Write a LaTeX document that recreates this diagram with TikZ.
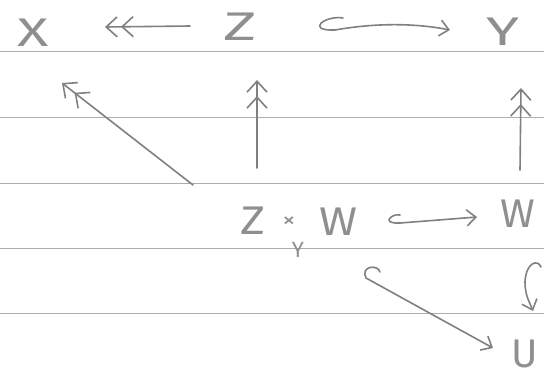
\documentclass[tikz,border=0pt]{standalone}
\usepackage{fontspec}
\usepackage{graphicx}
\newfontfamily\hand{Fira Sans}
\usetikzlibrary{arrows.meta}
\definecolor{pencil}{gray}{0.5}
\definecolor{lead}{gray}{0.56}
\definecolor{ruling}{gray}{0.68}
% stretch a letter horizontally
\newcommand\widen[2]{\scalebox{#1}[1]{#2}}
\tikzset{
  pen/.style={draw=pencil, line width=1.6pt, line cap=round, line join=round},
  obj/.style={inner sep=0pt, text=lead, font=\hand\fontsize{40}{40}\selectfont},
  small/.style={inner sep=0pt, text=lead, font=\hand\fontsize{22}{22}\selectfont},
  epi/.style={pen, -{Straight Barb[length=11pt,width=20pt,sep=3pt]Straight Barb[length=11pt,width=20pt]}},
  mono/.style={pen, -{Straight Barb[length=9pt,width=16pt]}},
  rule/.style={draw=ruling, line width=0.7pt}
}
\begin{document}
\begin{tikzpicture}[x=1pt, y=-1pt]
  \useasboundingbox (0,0) rectangle (544,376);
  % ruled paper
  \foreach \yy in {51,117,183,248,313}
    \draw[rule] (0,\yy) -- (544,\yy);

  % objects
  \node[obj] (X) at (33,33) {\widen{1.45}{X}};
  \node[obj] (Z) at (240,27) {\widen{1.6}{Z}};
  \node[obj] (Y) at (503,32) {\widen{1.5}{Y}};
  \node[obj] (Zb) at (253,221) {\widen{1.2}{Z}};
  \node[small] (tm) at (289,222) {\widen{1.2}{×}};
  \node[small] (Ys) at (298,250) {Y};
  \node[obj] (Wa) at (338,222) {\widen{1.15}{W}};
  \node[obj] (Wb) at (518,214) {\widen{1.05}{W}};
  \node[obj] (U) at (525,354) {U};
  \coordinate (t7) at (380,272);

  % top row
  \draw[epi] ([shift={(-50,-1)}]Z.center) -- ([shift={(72,-6)}]X.center);
  \draw[mono] ([shift={(103,-9)}]Z.center)
      .. controls (325,15) and (305,31) .. (335,30)
      .. controls (380,22) and (420,24) .. ([shift={(-53,-2)}]Y.center);

  % vertical and diagonal epimorphisms
  \draw[epi] ([shift={(-60,-36)}]Zb.center) -- ([shift={(29,50)}]X.center);
  \draw[epi] ([shift={(4,-53)}]Zb.center) -- ([shift={(17,53)}]Z.center);
  \draw[epi] ([shift={(2,-44)}]Wb.center) -- ([shift={(18,56)}]Y.center);

  % middle row
  \draw[mono] ([shift={(62,-7)}]Wa.center)
      .. controls (392,213) and (380,224) .. (400,223)
      -- ([shift={(-41,3)}]Wb.center);

  % bottom hooks
  \draw[mono] (t7) .. controls (378,264) and (360,266) .. (366,278)
      -- ([shift={(-32,-6)}]U.center);
  \draw[mono] ([shift={(23,53)}]Wb.center)
      .. controls (538,259) and (526,262) .. (525,282)
      .. controls (525,296) and (530,303) .. ([shift={(8,-43)}]U.center);
\end{tikzpicture}
\end{document}
